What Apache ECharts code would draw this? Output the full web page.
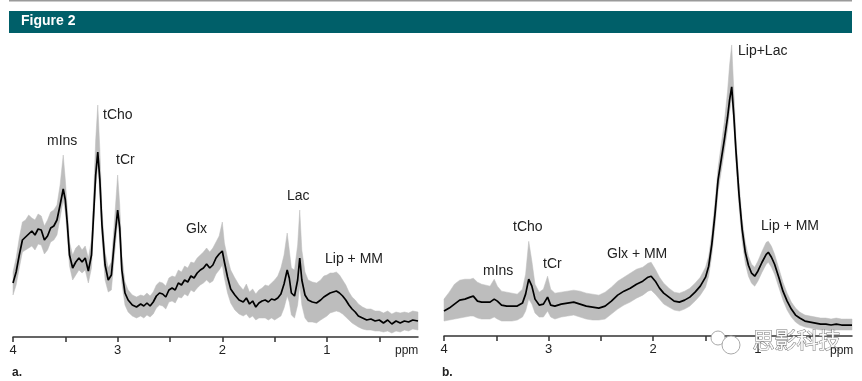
<!DOCTYPE html>
<html><head><meta charset="utf-8">
<script src="https://cdn.jsdelivr.net/npm/echarts@6/dist/echarts.min.js"></script>
<style>html,body{margin:0;padding:0;background:#fff}#c{width:862px;height:381px}</style>
</head><body><div id="c"></div>
<script>
// Panel a: chemical shift (ppm), mean intensity, upper and lower bound of grey band
var ppmA = [4.00,3.97,3.94,3.91,3.88,3.85,3.82,3.79,3.76,3.73,3.70,3.67,3.64,3.61,3.58,3.55,3.52,3.50,3.48,3.46,3.43,3.40,3.37,3.34,3.31,3.28,3.25,3.23,3.21,3.19,3.17,3.15,3.12,3.09,3.06,3.03,3.00,2.98,2.96,2.93,2.90,2.86,2.82,2.78,2.75,2.72,2.69,2.66,2.63,2.60,2.57,2.54,2.51,2.48,2.45,2.42,2.39,2.36,2.33,2.30,2.27,2.24,2.21,2.18,2.15,2.12,2.09,2.06,2.03,2.00,1.98,1.95,1.92,1.88,1.84,1.80,1.77,1.74,1.71,1.68,1.65,1.62,1.59,1.56,1.53,1.50,1.47,1.44,1.41,1.38,1.36,1.34,1.31,1.28,1.26,1.24,1.21,1.18,1.14,1.10,1.06,1.03,1.00,0.97,0.94,0.91,0.88,0.85,0.82,0.79,0.76,0.73,0.70,0.66,0.62,0.58,0.54,0.50,0.46,0.42,0.38,0.34,0.30,0.26,0.22,0.18,0.13];
var meanA = [54,65,82,97,100,103,106,102,108,107,97,101,109,111,117,132,148,137,112,82,69,75,79,75,79,66,82,122,162,185,157,112,72,57,62,97,127,109,67,44,37,32,30,33,31,34,31,35,41,44,43,40,47,49,47,54,52,57,55,61,59,64,67,69,73,69,72,79,83,86,75,60,48,42,37,35,39,33,36,30,34,36,37,35,38,37,39,43,53,67,59,44,41,57,79,57,42,37,35,34,37,40,42,44,45,46,44,41,37,32,28,25,21,19,17,18,16,17,14,17,13,16,14,16,15,17,16];
var upA = [65,79,99,115,117,122,119,117,123,121,111,117,125,127,132,152,182,157,127,95,82,89,92,87,91,79,97,142,197,232,187,127,85,69,75,117,162,132,82,55,47,42,40,42,41,44,41,45,52,55,54,51,59,61,60,67,65,71,69,75,74,79,82,85,89,85,89,95,101,115,94,79,67,59,52,47,53,45,48,43,47,49,52,51,54,57,61,69,82,104,87,69,67,92,127,87,65,57,55,54,57,61,62,64,64,65,62,57,52,45,40,37,33,30,28,28,26,26,24,26,23,25,24,25,24,26,25];
var loA = [42,52,69,85,87,89,91,87,93,92,83,87,95,97,102,119,137,125,99,71,57,62,67,64,67,54,69,109,149,172,142,99,57,45,47,82,115,97,54,32,25,21,19,21,19,22,20,23,29,32,31,28,35,36,34,40,39,43,41,47,45,49,52,54,57,54,56,63,67,72,59,44,34,27,23,21,23,19,21,17,19,19,19,17,19,17,19,21,29,41,35,22,19,32,52,32,19,15,15,14,17,19,21,24,25,26,25,23,20,17,14,12,10,8,7,7,6,6,5,6,4,6,5,7,6,8,7];

// Panel b
var ppmB = [4.00,3.95,3.90,3.85,3.80,3.75,3.72,3.68,3.64,3.60,3.56,3.52,3.49,3.45,3.40,3.35,3.30,3.25,3.22,3.19,3.16,3.13,3.09,3.05,3.01,2.98,2.94,2.88,2.82,2.76,2.70,2.64,2.58,2.52,2.46,2.40,2.34,2.28,2.22,2.16,2.10,2.05,2.02,1.98,1.94,1.90,1.85,1.80,1.75,1.70,1.65,1.60,1.55,1.50,1.47,1.44,1.41,1.38,1.35,1.32,1.29,1.27,1.25,1.23,1.21,1.18,1.15,1.12,1.09,1.06,1.03,1.00,0.96,0.92,0.90,0.87,0.84,0.80,0.76,0.72,0.68,0.64,0.60,0.55,0.50,0.45,0.40,0.35,0.30,0.25,0.20,0.15,0.10];
var meanB = [25,28,32,36,37,39,40,35,34,34,34,37,35,31,30,30,30,33,42,57,50,37,31,32,39,31,30,32,33,34,32,30,29,28,30,35,41,45,48,52,55,59,60,55,48,43,39,35,34,36,39,44,50,59,70,92,122,157,177,197,219,237,250,222,187,142,107,84,71,63,60,65,74,82,84,79,72,59,45,35,27,21,18,15,14,13,12,12,11,12,11,11,11];
var upB = [37,44,52,56,57,57,58,54,52,51,50,57,50,45,44,43,42,47,62,95,75,52,44,47,60,47,43,44,45,46,45,43,42,41,44,49,55,59,63,67,69,73,74,67,59,53,48,44,43,45,48,53,59,69,80,103,134,169,192,215,245,272,292,247,200,154,117,94,80,72,69,75,85,94,95,90,82,68,54,43,34,28,24,21,20,19,18,18,17,18,17,17,17];
var loB = [15,16,17,18,19,20,20,18,17,17,17,19,17,15,15,15,16,19,25,37,32,23,19,19,25,19,17,19,20,21,19,17,16,16,17,22,27,31,34,38,41,45,46,42,37,32,29,26,25,27,30,35,41,49,60,81,110,145,165,185,207,225,239,212,175,130,95,73,60,53,50,55,64,72,74,69,62,49,36,26,19,14,11,9,8,7,6,6,5,6,6,6,6];

var ticksMinor = [0.5,1,1.5,2,2.5,3,3.5,4];
var ticksMajor = [1,2,3,4];

function pairs(x, y){ return x.map(function(v,i){ return [v, y[i]]; }); }

var font = "'Liberation Sans', Arial, sans-serif";
function xAx(idx, mn){
  return {gridIndex: idx, type:'value', inverse:true, min: mn, max: 4,
    axisLine:{show:true, lineStyle:{color:'#333', width:1.5}},
    axisTick:{show:true, length:5, lineStyle:{color:'#333', width:1.5}, customValues: ticksMinor},
    axisLabel:{show:true, customValues: ticksMajor, color:'#222', fontSize:13, fontFamily:font, margin:7},
    splitLine:{show:false}};
}
function yAx(idx){
  return {gridIndex: idx, type:'value', min:0, max:300, show:false, splitLine:{show:false}};
}
function bandSeries(idx, x, up, lo){
  return {type:'custom', xAxisIndex:idx, yAxisIndex:idx, silent:true, z:1,
    data: pairs(x, up),
    renderItem: function(params, api){
      if (params.dataIndex !== 0) return null;
      var pts = [];
      for (var i = 0; i < x.length; i++) pts.push(api.coord([x[i], up[i]]));
      for (var j = x.length - 1; j >= 0; j--) pts.push(api.coord([x[j], lo[j]]));
      return {type:'polygon', shape:{points:pts}, style:{fill:'#bdbdbd', stroke:'#bdbdbd', lineWidth:0.5}};
    }};
}
function meanSeries(idx, x, m){
  return {type:'line', xAxisIndex:idx, yAxisIndex:idx, symbol:'none', silent:true,
    lineStyle:{color:'#000', width:1.7}, data: pairs(x, m), z:3};
}
function txt(x, y, s, extra){
  var o = {type:'text', left:x, top:y, z:10, style:{text:s, fill:'#222', font:'14px '+font}};
  if (extra) for (var k in extra) o.style[k] = extra[k];
  return o;
}

var chart = echarts.init(document.getElementById('c'), null, {renderer:'canvas'});
chart.setOption({
  animation:false,
  backgroundColor:'#fff',
  grid:[{left:13, right:444, top:37, bottom:44},{left:444, right:10, top:37, bottom:45}],
  xAxis:[xAx(0, 0.13), xAx(1, 0.1)],
  yAxis:[yAx(0), yAx(1)],
  series: [bandSeries(0, ppmA, upA, loA), meanSeries(0, ppmA, meanA),
           bandSeries(1, ppmB, upB, loB), meanSeries(1, ppmB, meanB)],
  graphic:[
    {type:'rect', shape:{x:9, y:0, width:843, height:1.5}, style:{fill:'#9a9a9a'}},
    {type:'rect', shape:{x:9, y:11, width:843, height:22}, style:{fill:'#005f69'}},
    {type:'text', left:21, top:14, style:{text:'Figure 2', fill:'#fff', font:"bold 14px 'Liberation Sans Narrow', 'Liberation Sans', Arial, sans-serif"}},
    txt(47, 134, 'mIns'), txt(103, 108, 'tCho'), txt(116, 153, 'tCr'), txt(186, 222, 'Glx'),
    txt(287, 189, 'Lac'), txt(325, 252, 'Lip + MM'),
    txt(483, 264, 'mIns'), txt(513, 220, 'tCho'), txt(543, 257, 'tCr'), txt(607, 247, 'Glx + MM'),
    txt(738, 44, 'Lip+Lac'), txt(761, 219, 'Lip + MM'),
    txt(395, 345, 'ppm', {font:'12px '+font}), txt(830, 345, 'ppm', {font:'12px '+font}),
    txt(12, 367, 'a.', {font:'bold 12px '+font}), txt(442, 367, 'b.', {font:'bold 12px '+font}),
    {type:'circle', z:9, shape:{cx:718, cy:338, r:7}, style:{fill:'#fff', stroke:'#aaa', lineWidth:1}},
    {type:'circle', z:9, shape:{cx:731, cy:345, r:9}, style:{fill:'#fff', stroke:'#aaa', lineWidth:1}},
    {type:'text', z:9, left:752, top:328, style:{text:'思影科技', fill:'#fafafa', stroke:'#777', lineWidth:1,
      font:"22px 'Noto Sans CJK SC', sans-serif"}}
  ]
});
</script></body></html>
